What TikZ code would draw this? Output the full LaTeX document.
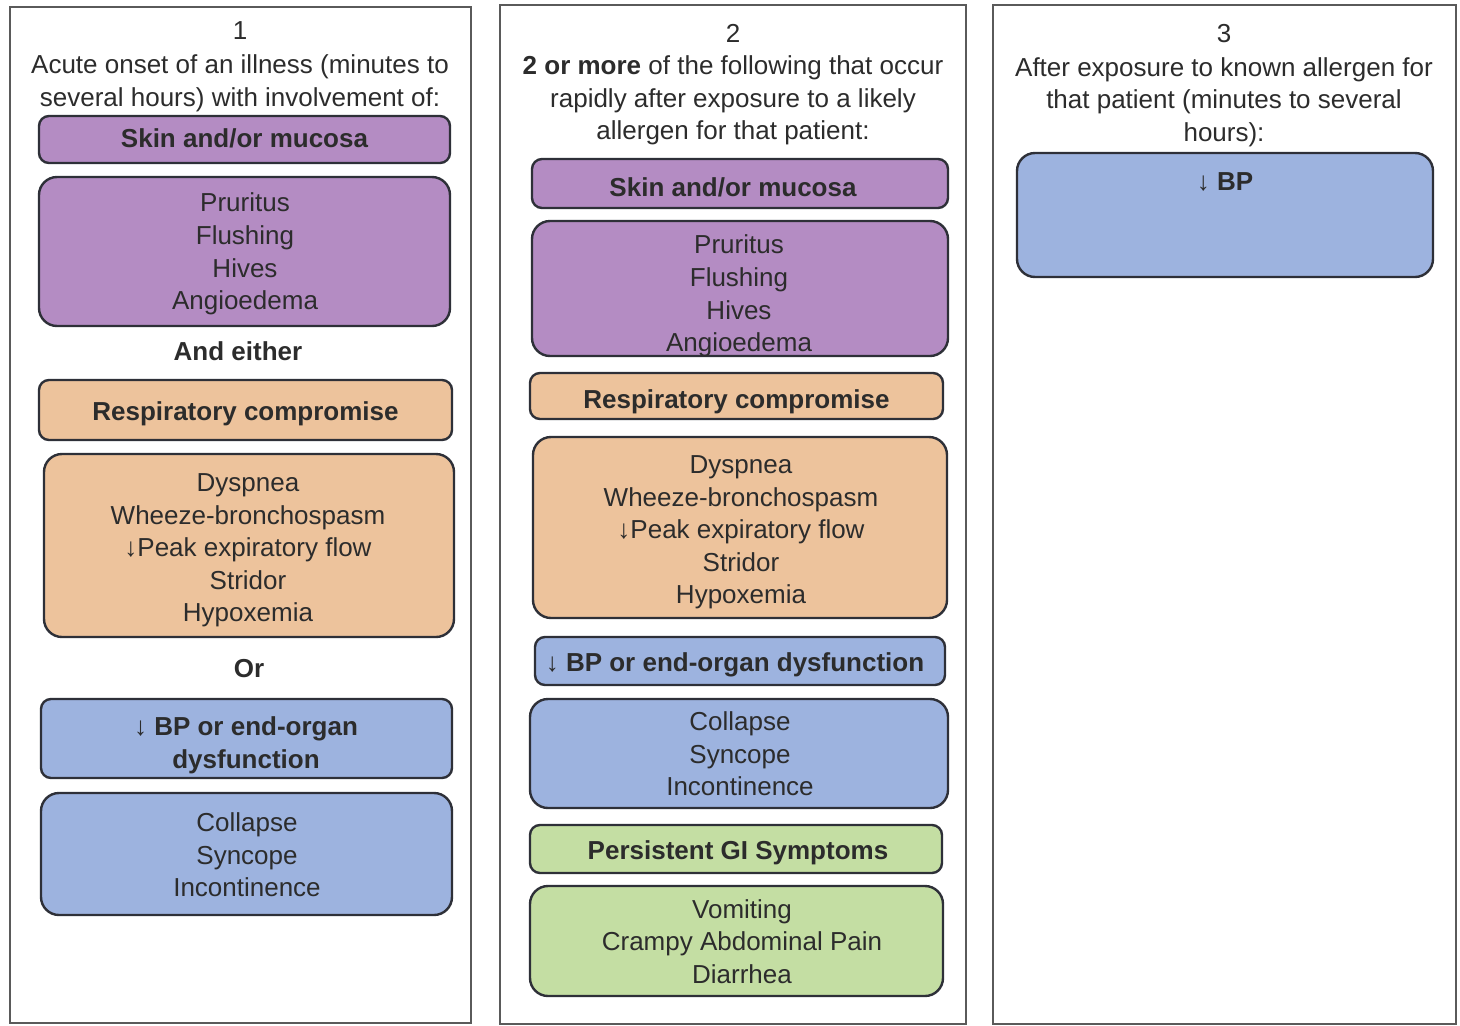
\documentclass[tikz,border=0pt]{standalone}
\usepackage{fontspec}
\setmainfont{Liberation Sans}
\definecolor{purp}{HTML}{B48CC3}
\definecolor{peach}{HTML}{EDC39C}
\definecolor{bluec}{HTML}{9DB3DF}
\definecolor{greenc}{HTML}{C4DEA3}
\definecolor{edgec}{HTML}{2E3038}
\definecolor{txt}{HTML}{2C2C2C}
\definecolor{panelc}{HTML}{5A5A5A}
\tikzset{
  panel/.style={draw=panelc, line width=2pt, fill=white, minimum width=#1, inner sep=0pt},
  box/.style={draw=edgec, line width=2.4pt, rounded corners=18pt, inner sep=0pt},
  hbox/.style={box, rounded corners=10pt},
  ttl/.style={align=center, text=txt, font=\fontsize{26}{32.6}\selectfont, inner sep=0pt},
  bttl/.style={ttl, font=\fontsize{26}{32.6}\selectfont\bfseries}
}
\newcommand{\dnarr}{{\mdseries\char"2193}}
\begin{document}
\begin{tikzpicture}[x=1pt,y=-1pt]
\useasboundingbox (0,0) rectangle (1460,1026);
\fill[white] (0,0) rectangle (1460,1026);
% panels
\node[panel=461pt, minimum height=1016pt] (p1) at (240.5,515) {};
\node[panel=466pt, minimum height=1019pt] (p2) at (733,514.5) {};
\node[panel=463pt, minimum height=1019pt] (p3) at (1224.5,514.5) {};

% panel 1
\node[ttl] (n1) at (240,31) {1};
\node[ttl] (t1) at (240,83.5) {Acute onset of an illness (minutes to\\several hours) with involvement of:};
\node[hbox, fill=purp, minimum width=411pt, minimum height=47pt] (s1) at (244.5,139.5) {};
\node[bttl] (s1t) at (244.5,138.5) {Skin and/or mucosa};
\node[box, fill=purp, minimum width=411pt, minimum height=149pt] (s1d) at (244.5,251.5) {};
\node[ttl] (s1dt) at (245,254) {Pruritus\\Flushing\\Hives\\Angioedema};
\node[bttl] (ae) at (238,351) {And either};
\node[hbox, fill=peach, minimum width=413pt, minimum height=60pt] (r1) at (245.5,410) {};
\node[bttl] (r1t) at (245.5,414) {Respiratory compromise};
\node[box, fill=peach, minimum width=410pt, minimum height=183pt] (r1d) at (249,545.5) {};
\node[ttl] (r1dt) at (248,550.5) {Dyspnea\\Wheeze-bronchospasm\\\dnarr Peak expiratory flow\\Stridor\\Hypoxemia};
\node[bttl] (or) at (249,669) {Or};
\node[hbox, fill=bluec, minimum width=411pt, minimum height=79pt] (b1) at (246.5,738.5) {};
\node[bttl] (b1t) at (246,745.5) {\dnarr\ BP or end-organ\\dysfunction};
\node[box, fill=bluec, minimum width=411pt, minimum height=122pt] (b1d) at (246.5,854) {};
\node[ttl] (b1dt) at (247,855) {Collapse\\Syncope\\Incontinence};

% panel 2
\node[ttl] (n2) at (733,33) {2};
\node[ttl] (t2) at (733,100.5) {\textbf{2 or more} of the following that occur\\rapidly after exposure to a likely\\allergen for that patient:};
\node[hbox, fill=purp, minimum width=416pt, minimum height=49pt] (s2) at (740,183.5) {};
\node[bttl] (s2t) at (733,187) {Skin and/or mucosa};
\node[box, fill=purp, minimum width=416pt, minimum height=135pt] (s2d) at (740,288.5) {};
\node[ttl] (s2dt) at (739,296) {Pruritus\\Flushing\\Hives\\Angioedema};
\node[hbox, fill=peach, minimum width=413pt, minimum height=46pt] (r2) at (736.5,396) {};
\node[bttl] (r2t) at (736.5,402) {Respiratory compromise};
\node[box, fill=peach, minimum width=414pt, minimum height=181pt] (r2d) at (740,527.5) {};
\node[ttl] (r2dt) at (741,532.5) {Dyspnea\\Wheeze-bronchospasm\\\dnarr Peak expiratory flow\\Stridor\\Hypoxemia};
\node[hbox, fill=bluec, minimum width=410pt, minimum height=48pt] (b2) at (740,661) {};
\node[bttl] (b2t) at (735,665) {\dnarr\ BP or end-organ dysfunction};
\node[box, fill=bluec, minimum width=418pt, minimum height=109pt] (b2d) at (739,753.5) {};
\node[ttl] (b2dt) at (740,754) {Collapse\\Syncope\\Incontinence};
\node[hbox, fill=greenc, minimum width=412pt, minimum height=48pt] (g2) at (736,849) {};
\node[bttl] (g2t) at (738,853) {Persistent GI Symptoms};
\node[box, fill=greenc, minimum width=413pt, minimum height=110pt] (g2d) at (736.5,941) {};
\node[ttl] (g2dt) at (742,941.5) {Vomiting\\Crampy Abdominal Pain\\Diarrhea};

% panel 3
\node[ttl] (n3) at (1224,34) {3};
\node[ttl] (t3) at (1224,102) {After exposure to known allergen for\\that patient (minutes to several\\hours):};
\node[box, fill=bluec, minimum width=416pt, minimum height=124pt] (b3) at (1225,215) {};
\node[bttl] (b3t) at (1225,182) {\dnarr\ BP};
\end{tikzpicture}
\end{document}
